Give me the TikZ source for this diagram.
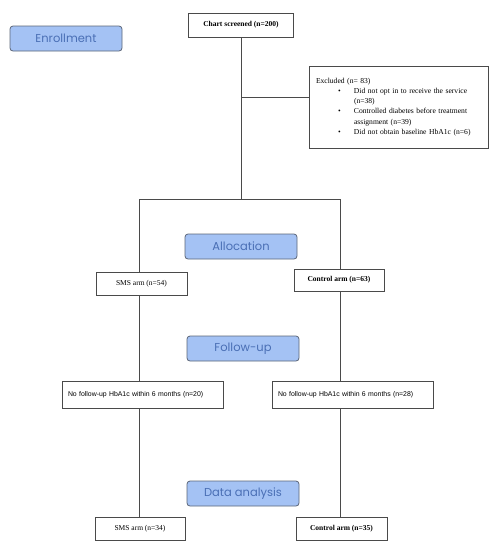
\documentclass[tikz,border=0pt]{standalone}
\usepackage{fontspec}
\setmainfont{Liberation Serif}
\newfontfamily\phasefont{Poppins}
\newfontfamily\smallsans{Liberation Sans}
\definecolor{phasefill}{HTML}{A4C2F4}
\definecolor{phasedraw}{HTML}{5B6678}
\definecolor{phasetext}{HTML}{4A6FB5}
\definecolor{boxline}{HTML}{4A4A4A}
\newcommand{\exbullet}{\hspace*{22pt}\makebox[16pt][l]{\textbullet}}
\newcommand{\excont}{\hspace*{38pt}}
\begin{document}
\begin{tikzpicture}[x=1pt,y=-1pt,
  phase/.style={draw=phasedraw,fill=phasefill,rounded corners=3pt,line width=0.8pt,
    minimum width=112pt,minimum height=25pt,inner sep=0pt,text=phasetext,
    font=\phasefont\fontsize{11.5}{13}\selectfont},
  box/.style={draw=boxline,line width=0.6pt,fill=white,inner sep=0pt,
    font=\fontsize{7.5}{9}\selectfont},
  boldbox/.style={box,font=\bfseries\fontsize{7.5}{9}\selectfont},
  fubox/.style={box,minimum width=161pt,minimum height=27pt,text width=149pt,align=left,
    font=\smallsans\fontsize{6.9}{8}\selectfont},
  conn/.style={draw=boxline,line width=0.7pt}]
\useasboundingbox (0,0) rectangle (498,550);
% phase labels
\node[phase] (enr) at (66,38.5) {Enrollment};
\node[phase] (alloc) at (241,246.5) {Allocation};
\node[phase] (fup) at (243,348.5) {Follow-up};
\node[phase] (data) at (243,493.5) {Data analysis};
% boxes
\node[boldbox,minimum width=105pt,minimum height=24pt] (chart) at (241,25) {Chart screened (n=200)};
\node[box,minimum width=179pt,minimum height=82pt,text width=165pt,align=left,
  font=\fontsize{7.6}{10.2}\selectfont] (excl) at (398.5,107) {Excluded (n= 83)\\
\exbullet Did not opt in to receive the service\\
\excont (n=38)\\
\exbullet Controlled diabetes before treatment\\
\excont assignment (n=39)\\
\exbullet Did not obtain baseline HbA1c (n=6)};
\node[box,minimum width=91pt,minimum height=23pt] (sms54) at (141.5,283.5) {SMS arm (n=54)};
\node[boldbox,minimum width=90pt,minimum height=22pt] (ctl63) at (339,280) {Control arm (n=63)};
\node[fubox] (fuL) at (142.5,394.5) {No follow-up HbA1c within 6 months (n=20)};
\node[fubox] (fuR) at (352.5,394.5) {No follow-up HbA1c within 6 months (n=28)};
\node[box,minimum width=90pt,minimum height=23pt] (sms34) at (140,528.5) {SMS arm (n=34)};
\node[boldbox,minimum width=91pt,minimum height=23pt] (ctl35) at (341.5,528.5) {Control arm (n=35)};
% connectors
\coordinate (split) at (241,199);
\coordinate (exj) at (241,97);
\coordinate (L) at (139,199);
\coordinate (R) at (340,199);
\draw[conn] (chart.south) -- (split);
\draw[conn] (exj) -- (exj -| excl.west);
\draw[conn] (L) -- (R);
\draw[conn] (L) -- (L |- sms54.north);
\draw[conn] (R) -- (R |- ctl63.north);
\draw[conn] (L |- sms54.south) -- (L |- fuL.north);
\draw[conn] (R |- ctl63.south) -- (R |- fuR.north);
\draw[conn] (L |- fuL.south) -- (L |- sms34.north);
\draw[conn] (R |- fuR.south) -- (R |- ctl35.north);
\end{tikzpicture}
\end{document}
